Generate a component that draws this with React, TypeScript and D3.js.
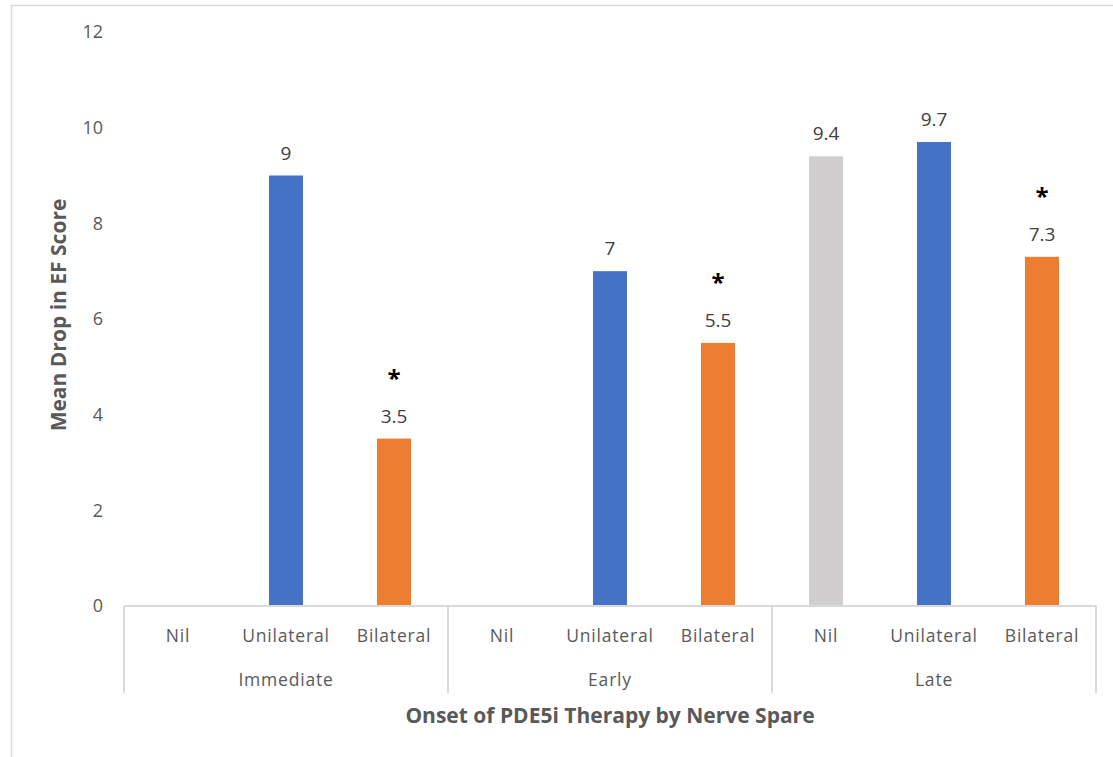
import React, { useEffect, useRef } from "react";
import * as d3 from "d3";

const onsets = ["Immediate", "Early", "Late"];
const nerveSpare = ["Nil", "Unilateral", "Bilateral"];
// mean drop in EF score, one row per onset, in nerveSpare order (null = no bar)
const immediateValues = [null, 9, 3.5];
const earlyValues = [null, 7, 5.5];
const lateValues = [9.4, 9.7, 7.3];
const significant = ["Bilateral"];
const yTicks = [0, 2, 4, 6, 8, 10, 12];
const barColors = ["#D0CECE", "#4472C4", "#ED7D31"];

const W = 1113, H = 757;
const margin = { left: 124, right: 17, top: 32, bottom: 151 };

export default function App() {
  const ref = useRef<SVGSVGElement>(null);

  useEffect(() => {
    const svg = d3.select(ref.current);
    svg.selectAll("*").remove();
    const font = "'Open Sans', 'Noto Sans', sans-serif";
    const innerW = W - margin.left - margin.right;
    const innerH = H - margin.top - margin.bottom;

    // frame
    svg.append("path").attr("d", `M11.5,${H} V5.5 H${W}`).attr("fill", "none").attr("stroke", "#D9D9D9").attr("stroke-width", 1.5);

    const chart = svg.append("g").attr("transform", `translate(${margin.left},${margin.top})`);

    const y = d3.scaleLinear().domain([0, 12]).range([innerH, 0]);
    const xGroup = d3.scaleBand().domain(onsets).range([0, innerW]);
    const xSub = d3.scalePoint().domain(nerveSpare).range([0, xGroup.bandwidth()]).padding(0.5);
    const barW = xSub.step() * 0.315;

    const yAxis = chart.append("g").call(d3.axisLeft(y).tickValues(yTicks).tickSize(0).tickPadding(21));
    yAxis.select(".domain").remove();
    yAxis.selectAll("text").attr("font-family", font).attr("font-size", 18).attr("fill", "#595959");

    const rows = [immediateValues, earlyValues, lateValues];
    const data = onsets.flatMap((g, gi) => nerveSpare.map((n, ni) => ({ group: g, cat: n, value: rows[gi][ni], ci: ni })));

    const bars = chart.selectAll(".bar").data(data.filter(d => d.value != null)).join("g").attr("class", "bar")
      .attr("transform", d => `translate(${xGroup(d.group)! + xSub(d.cat)!},0)`);
    bars.append("rect").attr("x", -barW / 2).attr("width", barW)
      .attr("y", d => y(d.value as number)).attr("height", d => innerH - y(d.value as number))
      .attr("fill", d => barColors[d.ci]);
    bars.append("text").attr("text-anchor", "middle").attr("y", d => y(d.value as number) - 16)
      .attr("font-family", font).attr("font-size", 19).attr("fill", "#404040").text(d => String(d.value));
    bars.filter(d => significant.includes(d.cat)).append("text").attr("text-anchor", "middle")
      .attr("y", d => y(d.value as number) - 52).attr("font-family", font).attr("font-size", 24).attr("font-weight", "bold")
      .attr("fill", "#000").text("*");

    // category axis
    const xa = chart.append("g").attr("transform", `translate(0,${innerH})`);
    xa.append("line").attr("x1", 0).attr("x2", innerW).attr("stroke", "#D9D9D9").attr("stroke-width", 2);
    xa.selectAll(".sep").data([...onsets.map(g => xGroup(g)!), innerW]).join("line").attr("class", "sep")
      .attr("x1", d => d).attr("x2", d => d).attr("y1", 0).attr("y2", 87).attr("stroke", "#D9D9D9").attr("stroke-width", 2);
    xa.selectAll(".cat").data(data).join("text").attr("class", "cat")
      .attr("x", d => xGroup(d.group)! + xSub(d.cat)!).attr("y", 36).attr("text-anchor", "middle")
      .attr("font-family", font).attr("font-size", 17.5).attr("letter-spacing", 0.8).attr("fill", "#595959").text(d => d.cat);
    xa.selectAll(".grp").data(onsets).join("text").attr("class", "grp")
      .attr("x", d => xGroup(d)! + xGroup.bandwidth() / 2).attr("y", 80).attr("text-anchor", "middle")
      .attr("font-family", font).attr("font-size", 17.5).attr("letter-spacing", 0.8).attr("fill", "#595959").text(d => d);

    // titles
    svg.append("text").attr("x", 610).attr("y", 723).attr("text-anchor", "middle")
      .attr("font-family", font).attr("font-size", 21).attr("font-weight", "bold").attr("fill", "#595959")
      .text("Onset of PDE5i Therapy by Nerve Spare");
    svg.append("text").attr("transform", `translate(66,315) rotate(-90)`).attr("text-anchor", "middle")
      .attr("font-family", font).attr("font-size", 21).attr("font-weight", "bold").attr("fill", "#595959")
      .text("Mean Drop in EF Score");
  }, []);

  return <svg ref={ref} width={W} height={H} style={{ position: "absolute", left: 0, top: 0, background: "#fff" }} />;
}
